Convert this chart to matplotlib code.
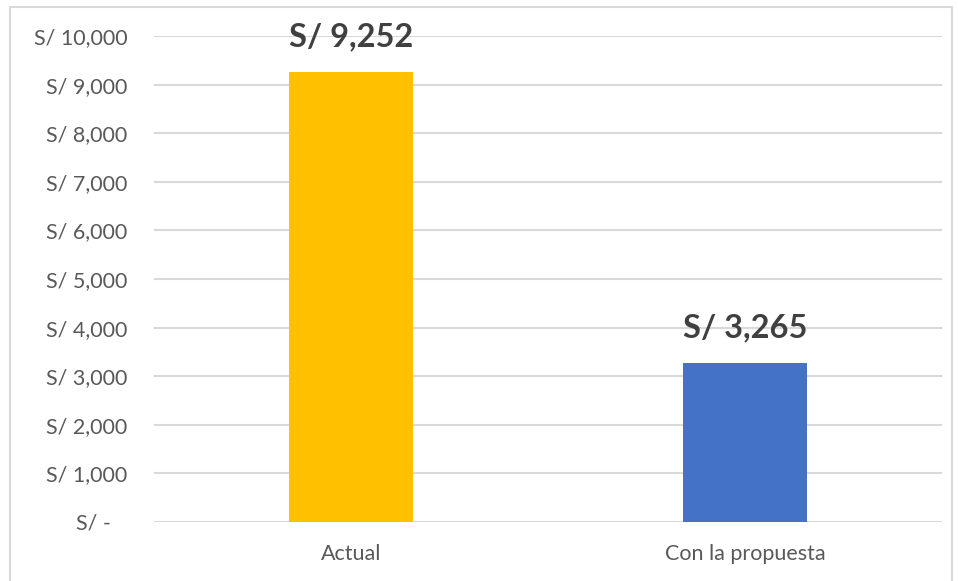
import matplotlib.pyplot as plt
from matplotlib.ticker import FuncFormatter, MultipleLocator
from matplotlib.patches import Rectangle

categories = ["Actual", "Con la propuesta"]
values = [9252, 3265]
colors = ["#FFC000", "#4472C4"]
value_labels = ["S/ 9,252", "S/ 3,265"]

plt.rcParams['font.family'] = ['Lato', 'DejaVu Sans']

fig = plt.figure(figsize=(9.58, 5.81), dpi=100)
ax = fig.add_axes([154/958, 59/581, (942-154)/958, (522-36)/581])

x = list(range(len(categories)))
bars = ax.bar(x, values, width=0.315, color=colors, zorder=3)
ax.set_xlim(-0.5, 1.5)
ax.set_ylim(0, 10000)
ax.yaxis.set_major_locator(MultipleLocator(1000))

def fmt(v, pos):
    if v == 0:
        return "S/ -   "
    return "S/ {:,.0f}".format(v)

ax.yaxis.set_major_formatter(FuncFormatter(fmt))
ax.set_xticks(x)
ax.set_xticklabels(categories)
ax.grid(axis='y', color='#D9D9D9', linewidth=1.5, zorder=0)
for s in ax.spines.values():
    s.set_visible(False)
ax.tick_params(axis='both', length=0, labelsize=15.5, labelcolor='#595959')
ax.tick_params(axis='y', pad=19)
ax.tick_params(axis='x', pad=16)

for xi, v, lab in zip(x, values, value_labels):
    ax.annotate(lab, (xi, v), xytext=(0, 15), textcoords='offset points',
                ha='center', va='bottom', fontsize=23.5, fontweight='bold',
                color='#404040', zorder=4)

fig.patches.append(Rectangle((10/958, -0.01), (952-10)/958, (581-7)/581 + 0.01,
                             transform=fig.transFigure, fill=False,
                             edgecolor='#D9D9D9', linewidth=1.5))

fig.savefig("out.png", dpi=100)
